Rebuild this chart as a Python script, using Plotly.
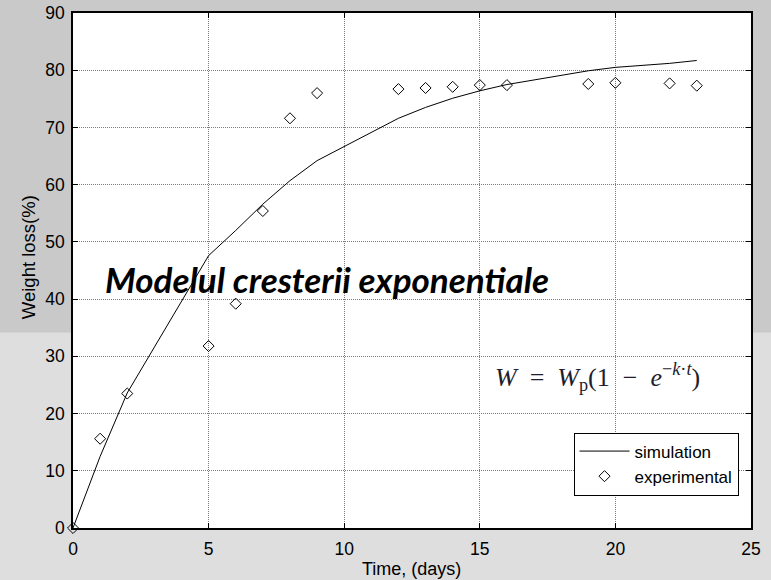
import plotly.graph_objects as go

# ---- data ----
time_days = [0, 1, 2, 5, 6, 7, 8, 9, 12, 13, 14, 15, 16, 19, 20, 22, 23]
experimental = [0, 15.6, 23.5, 31.8, 39.2, 55.4, 71.6, 76.0, 76.7, 76.9, 77.1, 77.4, 77.4, 77.6, 77.8, 77.7, 77.3]
simulation = [0, 12.5, 23.6, 47.6, 52.0, 56.6, 60.7, 64.2, 71.6, 73.5, 75.1, 76.4, 77.5, 79.9, 80.5, 81.2, 81.7]
x_ticks = [0, 5, 10, 15, 20, 25]
y_ticks = [0, 10, 20, 30, 40, 50, 60, 70, 80, 90]

W, H = 771, 580
L, R, T, B = 72.5, 19.5, 13.3, 51.5
pw, ph = W - L - R, H - T - B

def px_x(p):
    return (p - L) / pw

def px_y(p):
    return (H - B - p) / ph

fig = go.Figure()
fig.add_trace(go.Scatter(x=time_days, y=simulation, mode="lines", name="simulation",
                         line=dict(color="black", width=1)))
fig.add_trace(go.Scatter(x=time_days, y=experimental, mode="markers", name="experimental",
                         marker=dict(symbol="diamond-open", size=8.5, color="black",
                                     line=dict(width=1, color="black")),
                         cliponaxis=False))

axis_common = dict(showline=True, linecolor="black", linewidth=1.5, mirror="ticks",
                   ticks="inside", ticklen=5, tickcolor="black",
                   showgrid=True, gridcolor="#7a7a7a", griddash="1px,1px", gridwidth=1,
                   zeroline=False, automargin=False,
                   tickfont=dict(family="Liberation Sans, Arial", size=17.5, color="black"))

fig.update_xaxes(range=[0, 25], tickvals=x_ticks, ticklabelstandoff=4, **axis_common)
fig.update_yaxes(range=[0, 90], tickvals=y_ticks, ticklabelstandoff=3, **axis_common)

shapes = [
    dict(type="rect", xref="paper", yref="paper", x0=-0.3, x1=1.3,
         y0=px_y(H + 5), y1=px_y(333), fillcolor="#dedede", line=dict(width=0), layer="below"),
    dict(type="rect", xref="paper", yref="paper", x0=0, x1=1, y0=0, y1=1,
         fillcolor="white", line=dict(width=0), layer="below"),
]

annotations = [
    dict(text="Time, (days)", xref="paper", yref="paper", x=px_x(411), y=px_y(570),
         showarrow=False, font=dict(family="Liberation Sans, Arial", size=18, color="black"),
         xanchor="center", yanchor="middle"),
    dict(text="Weight loss(%)", xref="paper", yref="paper", x=px_x(28), y=px_y(258),
         showarrow=False, textangle=-90,
         font=dict(family="Liberation Sans, Arial", size=18.5, color="black"),
         xanchor="center", yanchor="middle"),
    dict(text="<b><i>Modelul cresterii exponentiale</i></b>", xref="paper", yref="paper",
         x=px_x(327), y=px_y(279), showarrow=False,
         font=dict(family="Lato", size=35, color="black"),
         xanchor="center", yanchor="middle"),
    dict(text="<i>W</i>&nbsp;&nbsp;=&nbsp;&nbsp;<i>W</i><sub>p</sub>(1&nbsp;&nbsp;−&nbsp;&nbsp;<i>e</i><sup>−<i>k</i>·<i>t</i></sup>)",
         xref="paper", yref="paper", x=px_x(598), y=px_y(377), showarrow=False,
         font=dict(family="Liberation Serif", size=26, color="#1e1e2e"),
         xanchor="center", yanchor="middle"),
]

fig.update_layout(
    width=W, height=H,
    margin=dict(l=L, r=R, t=T, b=B, pad=0),
    paper_bgcolor="#c9c9c9", plot_bgcolor="white",
    shapes=shapes, annotations=annotations,
    showlegend=True,
    legend=dict(x=px_x(739), y=px_y(496), xanchor="right", yanchor="bottom",
                bgcolor="white", bordercolor="black", borderwidth=1,
                font=dict(family="Liberation Sans, Arial", size=17, color="black"),
                itemwidth=50, tracegroupgap=0),
)

fig.write_html("out.html")
